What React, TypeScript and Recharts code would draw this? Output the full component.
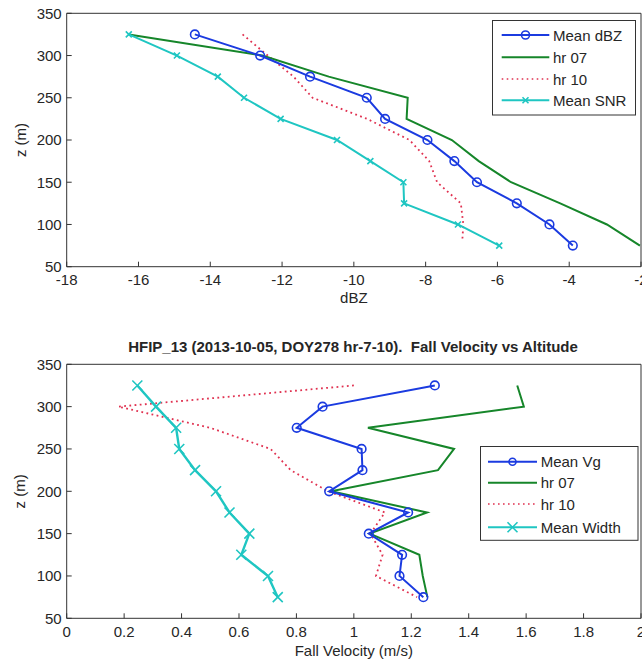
import { ScatterChart, Scatter, XAxis, YAxis } from "recharts";

// altitude levels (m)
const Z_LEVELS = [325, 300, 275, 250, 225, 200, 175, 150, 125, 100, 75];
const HR10_DBZ_Z = [325, 300, 275, 250, 225, 200, 175, 150, 125, 100, 80];

// top panel: reflectivity (dBZ)
const MEAN_DBZ = [-14.43, -12.61, -11.22, -9.64, -9.13, -7.95, -7.2, -6.57, -5.46, -4.55, -3.9];
const HR07_DBZ = [-16.27, -12.55, -10.7, -8.5, -8.53, -7.27, -6.52, -5.62, -4.25, -2.95, -2.03];
const HR10_DBZ = [-13.1, -12.4, -11.68, -11.15, -9.63, -8.45, -7.9, -7.68, -7.02, -6.95, -6.98];
const MEAN_SNR = [-16.27, -14.93, -13.79, -13.06, -12.04, -10.47, -9.54, -8.62, -8.6, -7.1, -5.95];

// bottom panel: fall velocity (m/s)
const MEAN_VG = [1.282, 0.891, 0.801, 1.027, 1.03, 0.914, 1.189, 1.052, 1.168, 1.159, 1.242];
const HR07_VG = [1.569, 1.592, 1.049, 1.349, 1.293, 0.921, 1.255, 1.055, 1.228, 1.24, 1.256];
const HR10_VG = [1.0, 0.18, 0.5, 0.71, 0.78, 0.91, 1.108, 1.058, 1.1, 1.077, 1.22];
const MEAN_WIDTH = [0.246, 0.311, 0.381, 0.392, 0.447, 0.52, 0.567, 0.636, 0.608, 0.701, 0.735];

const DBZ_TICKS = [-18, -16, -14, -12, -10, -8, -6, -4, -2];
const VEL_TICKS = [0, 0.2, 0.4, 0.6, 0.8, 1, 1.2, 1.4, 1.6, 1.8, 2];
const Z_TICKS = [50, 100, 150, 200, 250, 300, 350];

const TOP_LEGEND = ["Mean dBZ", "hr 07", "hr 10", "Mean SNR"];
const BOTTOM_LEGEND = ["Mean Vg", "hr 07", "hr 10", "Mean Width"];
const TITLE = "HFIP_13 (2013-10-05, DOY278 hr-7-10).  Fall Velocity vs Altitude";

const BLUE = "#1b3be0";
const GREEN = "#16862a";
const RED = "#e03150";
const CYAN = "#1fc6c2";
const AXIS = "#333333";
const TEXT = "#262626";
const FONT = "'Liberation Sans', Arial, sans-serif";

type Pt = { x: number; z: number };

function toPoints(xs: number[], zs: number[]): Pt[] {
  return xs.map((x, i) => ({ x, z: zs[i] }));
}

function CircleMark(props: any) {
  const { cx, cy } = props;
  return <circle cx={cx} cy={cy} r={4.3} fill="none" stroke={BLUE} strokeWidth={1.6} />;
}

function makeCross(s: number, w: number) {
  return (props: any) => {
    const { cx, cy } = props;
    return (
      <path
        d={`M${cx - s},${cy - s}L${cx + s},${cy + s}M${cx - s},${cy + s}L${cx + s},${cy - s}`}
        stroke={CYAN}
        strokeWidth={w}
        fill="none"
      />
    );
  };
}

const SmallCross = makeCross(3, 1.6);
const BigCross = makeCross(5, 1.6);
const NoMark = () => <g />;

function ZLabel(props: any) {
  const vb = props.viewBox || { y: 0, height: 0 };
  const cy = vb.y + vb.height / 2;
  return (
    <text
      x={20}
      y={cy}
      transform={`rotate(-90 20 ${cy})`}
      textAnchor="middle"
      dominantBaseline="central"
      fill={TEXT}
      fontSize={15}
      fontFamily={FONT}
    >
      z (m)
    </text>
  );
}

type PanelProps = {
  height: number;
  margin: { top: number; right: number; bottom: number; left: number };
  domain: [number, number];
  ticks: number[];
  xLabel: string;
  xLabelOffset: number;
  children: React.ReactNode;
};

function Panel({ height, margin, domain, ticks, xLabel, xLabelOffset, children }: PanelProps) {
  const axisCommon = {
    type: "number" as const,
    allowDataOverflow: true,
    axisLine: { stroke: AXIS, strokeWidth: 1 },
    tickLine: { stroke: AXIS, strokeWidth: 1 },
    tickSize: -5,
    interval: 0 as const,
  };
  return (
    <ScatterChart width={642} height={height} margin={margin} style={{ fontFamily: FONT }}>
      <XAxis
        {...axisCommon}
        xAxisId="b"
        dataKey="x"
        domain={domain}
        ticks={ticks}
        height={40}
        tickMargin={13}
        tick={{ fill: TEXT, fontSize: 15 }}
        label={{ value: xLabel, position: "insideBottom", offset: xLabelOffset, fill: TEXT, fontSize: 15 }}
      />
      <XAxis {...axisCommon} xAxisId="t" orientation="top" dataKey="x" domain={domain} ticks={ticks} height={1} tick={false} />
      <YAxis
        {...axisCommon}
        yAxisId="l"
        dataKey="z"
        domain={[50, 350]}
        ticks={Z_TICKS}
        width={60}
        tickMargin={10}
        tick={{ fill: TEXT, fontSize: 15 }}
        label={<ZLabel />}
      />
      <YAxis {...axisCommon} yAxisId="r" orientation="right" dataKey="z" domain={[50, 350]} ticks={Z_TICKS} width={1} tick={false} />
      {children}
    </ScatterChart>
  );
}

type LegendProps = {
  x: number;
  y: number;
  w: number;
  h: number;
  rowY: number[];
  lineX: [number, number];
  textX: number;
  labels: string[];
  big: boolean;
};

function LegendBox({ x, y, w, h, rowY, lineX, textX, labels, big }: LegendProps) {
  const [x0, x1] = lineX;
  const mid = (x0 + x1) / 2;
  const s = big ? 5 : 3;
  return (
    <g fontFamily={FONT} fontSize={15} fill={TEXT}>
      <rect x={x} y={y} width={w} height={h} fill="#fff" stroke={AXIS} strokeWidth={1} />
      <line x1={x0} x2={x1} y1={rowY[0]} y2={rowY[0]} stroke={BLUE} strokeWidth={2} />
      <circle cx={mid} cy={rowY[0]} r={big ? 3.5 : 4} fill="none" stroke={BLUE} strokeWidth={1.6} />
      <line x1={x0} x2={x1} y1={rowY[1]} y2={rowY[1]} stroke={GREEN} strokeWidth={2} />
      <line x1={x0} x2={x1} y1={rowY[2]} y2={rowY[2]} stroke={RED} strokeWidth={1.6} strokeDasharray="1.6 3.4" />
      <line x1={x0} x2={x1} y1={rowY[3]} y2={rowY[3]} stroke={CYAN} strokeWidth={2} />
      <path
        d={`M${mid - s},${rowY[3] - s}L${mid + s},${rowY[3] + s}M${mid - s},${rowY[3] + s}L${mid + s},${rowY[3] - s}`}
        stroke={CYAN}
        strokeWidth={1.6}
      />
      {labels.map((t, i) => (
        <text key={t + i} x={textX} y={rowY[i]} dominantBaseline="central">
          {t}
        </text>
      ))}
    </g>
  );
}

export default function App() {
  const meanDbz = toPoints(MEAN_DBZ, Z_LEVELS);
  const hr07Dbz = toPoints(HR07_DBZ, Z_LEVELS);
  const hr10Dbz = toPoints(HR10_DBZ, HR10_DBZ_Z);
  const meanSnr = toPoints(MEAN_SNR, Z_LEVELS);
  const meanVg = toPoints(MEAN_VG, Z_LEVELS);
  const hr07Vg = toPoints(HR07_VG, Z_LEVELS);
  const hr10Vg = toPoints(HR10_VG, Z_LEVELS);
  const meanWidth = toPoints(MEAN_WIDTH, Z_LEVELS);

  return (
    <div style={{ position: "absolute", left: 0, top: 0, width: 642, height: 664, background: "#fff", overflow: "hidden" }}>
      <div style={{ position: "absolute", left: 0, top: 0 }}>
        <Panel
          height={320}
          margin={{ top: 12.3, right: 0, bottom: 13.3, left: 6.7 }}
          domain={[-18, -2]}
          ticks={DBZ_TICKS}
          xLabel="dBZ"
          xLabelOffset={3.7}
        >
          <Scatter xAxisId="b" yAxisId="l" data={hr10Dbz} line={{ stroke: RED, strokeWidth: 1.8, strokeDasharray: "1.8 3.4" }} shape={NoMark} isAnimationActive={false} />
          <Scatter xAxisId="b" yAxisId="l" data={hr07Dbz} line={{ stroke: GREEN, strokeWidth: 2 }} shape={NoMark} isAnimationActive={false} />
          <Scatter xAxisId="b" yAxisId="l" data={meanSnr} line={{ stroke: CYAN, strokeWidth: 2 }} shape={SmallCross} isAnimationActive={false} />
          <Scatter xAxisId="b" yAxisId="l" data={meanDbz} line={{ stroke: BLUE, strokeWidth: 2 }} shape={CircleMark} isAnimationActive={false} />
        </Panel>
      </div>
      <div
        style={{
          position: "absolute",
          left: 64,
          width: 578,
          top: 338,
          lineHeight: "18px",
          textAlign: "center",
          fontFamily: FONT,
          fontWeight: "bold",
          fontSize: 15,
          color: TEXT,
          whiteSpace: "pre",
        }}
      >
        {TITLE}
      </div>
      <div style={{ position: "absolute", left: 0, top: 320 }}>
        <Panel
          height={344}
          margin={{ top: 43.3, right: 0, bottom: 5.7, left: 6.7 }}
          domain={[0, 2]}
          ticks={VEL_TICKS}
          xLabel="Fall Velocity (m/s)"
          xLabelOffset={2.3}
        >
          <Scatter xAxisId="b" yAxisId="l" data={hr10Vg} line={{ stroke: RED, strokeWidth: 1.8, strokeDasharray: "1.8 3.4" }} shape={NoMark} isAnimationActive={false} />
          <Scatter xAxisId="b" yAxisId="l" data={hr07Vg} line={{ stroke: GREEN, strokeWidth: 2 }} shape={NoMark} isAnimationActive={false} />
          <Scatter xAxisId="b" yAxisId="l" data={meanVg} line={{ stroke: BLUE, strokeWidth: 2 }} shape={CircleMark} isAnimationActive={false} />
          <Scatter xAxisId="b" yAxisId="l" data={meanWidth} line={{ stroke: CYAN, strokeWidth: 2.4 }} shape={BigCross} isAnimationActive={false} />
        </Panel>
      </div>
      <svg width={642} height={664} style={{ position: "absolute", left: 0, top: 0, pointerEvents: "none" }}>
        <LegendBox x={492.5} y={20.5} w={143} h={94.5} rowY={[35, 57.3, 79, 100.3]} lineX={[501.7, 549.3]} textX={553} labels={TOP_LEGEND} big={false} />
        <LegendBox x={480.5} y={446.5} w={157.5} h={93.8} rowY={[461.7, 482.7, 504, 527.3]} lineX={[488, 537]} textX={540.7} labels={BOTTOM_LEGEND} big={true} />
      </svg>
    </div>
  );
}
